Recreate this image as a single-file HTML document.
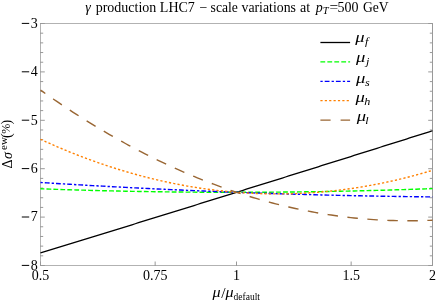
<!DOCTYPE html>
<html><head><meta charset="utf-8"><title>plot</title>
<style>html,body{margin:0;padding:0;background:#fff;}svg{display:block;will-change:transform;}text{font-family:"Liberation Serif",serif;fill:#000;}</style></head><body>
<svg width="436" height="302" viewBox="0 0 436 302">
<rect width="436" height="302" fill="#fff"/>
<defs><clipPath id="c"><rect x="40.0" y="23.5" width="393.0" height="242.0"/></clipPath></defs>
<g stroke-width="1" fill="none">
<path d="M40.50 23.00 V266.00 M40.50 23.50 H432.50 M40.50 265.50 H432.50" stroke="#b2b2b2"/>
<path d="M432.50 23.00 V266.00" stroke="#999999"/>
</g>
<g stroke="#999999" stroke-width="1" fill="none">
<path d="M40.00 23.50 h4.80 M433.00 23.50 h-4.80"/>
<path d="M40.00 33.18 h3.20 M433.00 33.18 h-3.20"/>
<path d="M40.00 42.86 h3.20 M433.00 42.86 h-3.20"/>
<path d="M40.00 52.54 h3.20 M433.00 52.54 h-3.20"/>
<path d="M40.00 62.22 h3.20 M433.00 62.22 h-3.20"/>
<path d="M40.00 71.90 h4.80 M433.00 71.90 h-4.80"/>
<path d="M40.00 81.58 h3.20 M433.00 81.58 h-3.20"/>
<path d="M40.00 91.26 h3.20 M433.00 91.26 h-3.20"/>
<path d="M40.00 100.94 h3.20 M433.00 100.94 h-3.20"/>
<path d="M40.00 110.62 h3.20 M433.00 110.62 h-3.20"/>
<path d="M40.00 120.30 h4.80 M433.00 120.30 h-4.80"/>
<path d="M40.00 129.98 h3.20 M433.00 129.98 h-3.20"/>
<path d="M40.00 139.66 h3.20 M433.00 139.66 h-3.20"/>
<path d="M40.00 149.34 h3.20 M433.00 149.34 h-3.20"/>
<path d="M40.00 159.02 h3.20 M433.00 159.02 h-3.20"/>
<path d="M40.00 168.70 h4.80 M433.00 168.70 h-4.80"/>
<path d="M40.00 178.38 h3.20 M433.00 178.38 h-3.20"/>
<path d="M40.00 188.06 h3.20 M433.00 188.06 h-3.20"/>
<path d="M40.00 197.74 h3.20 M433.00 197.74 h-3.20"/>
<path d="M40.00 207.42 h3.20 M433.00 207.42 h-3.20"/>
<path d="M40.00 217.10 h4.80 M433.00 217.10 h-4.80"/>
<path d="M40.00 226.78 h3.20 M433.00 226.78 h-3.20"/>
<path d="M40.00 236.46 h3.20 M433.00 236.46 h-3.20"/>
<path d="M40.00 246.14 h3.20 M433.00 246.14 h-3.20"/>
<path d="M40.00 255.82 h3.20 M433.00 255.82 h-3.20"/>
<path d="M40.00 265.50 h4.80 M433.00 265.50 h-4.80"/>
<path d="M40.50 266.00 v-4.5"/>
<path d="M155.15 266.00 v-4.5"/>
<path d="M236.50 266.00 v-4.5"/>
<path d="M351.15 266.00 v-4.5"/>
<path d="M432.50 266.00 v-4.5"/>
</g>
<g clip-path="url(#c)" fill="none">
<path d="M40.50 252.95 L43.77 251.95 L47.03 250.94 L50.30 249.94 L53.57 248.93 L56.83 247.93 L60.10 246.93 L63.37 245.92 L66.63 244.92 L69.90 243.91 L73.17 242.90 L76.43 241.90 L79.70 240.89 L82.97 239.89 L86.23 238.88 L89.50 237.87 L92.77 236.86 L96.03 235.86 L99.30 234.85 L102.57 233.84 L105.83 232.83 L109.10 231.82 L112.37 230.82 L115.63 229.81 L118.90 228.80 L122.17 227.79 L125.43 226.78 L128.70 225.77 L131.97 224.76 L135.23 223.75 L138.50 222.74 L141.77 221.73 L145.03 220.72 L148.30 219.70 L151.57 218.69 L154.83 217.68 L158.10 216.67 L161.37 215.66 L164.63 214.64 L167.90 213.63 L171.17 212.62 L174.43 211.60 L177.70 210.59 L180.97 209.58 L184.23 208.56 L187.50 207.55 L190.77 206.53 L194.03 205.52 L197.30 204.50 L200.57 203.49 L203.83 202.47 L207.10 201.45 L210.37 200.44 L213.63 199.42 L216.90 198.41 L220.17 197.39 L223.43 196.37 L226.70 195.35 L229.97 194.34 L233.23 193.32 L236.50 192.30 L239.77 191.28 L243.03 190.26 L246.30 189.24 L249.57 188.22 L252.83 187.21 L256.10 186.19 L259.37 185.17 L262.63 184.15 L265.90 183.12 L269.17 182.10 L272.43 181.08 L275.70 180.06 L278.97 179.04 L282.23 178.02 L285.50 177.00 L288.77 175.97 L292.03 174.95 L295.30 173.93 L298.57 172.91 L301.83 171.88 L305.10 170.86 L308.37 169.84 L311.63 168.81 L314.90 167.79 L318.17 166.76 L321.43 165.74 L324.70 164.71 L327.97 163.69 L331.23 162.66 L334.50 161.64 L337.77 160.61 L341.03 159.59 L344.30 158.56 L347.57 157.53 L350.83 156.51 L354.10 155.48 L357.37 154.45 L360.63 153.42 L363.90 152.39 L367.17 151.37 L370.43 150.34 L373.70 149.31 L376.97 148.28 L380.23 147.25 L383.50 146.22 L386.77 145.19 L390.03 144.16 L393.30 143.13 L396.57 142.10 L399.83 141.07 L403.10 140.04 L406.37 139.01 L409.63 137.98 L412.90 136.95 L416.17 135.91 L419.43 134.88 L422.70 133.85 L425.97 132.82 L429.23 131.78 L432.50 130.75" stroke="#000000" stroke-width="1.3"/>
<path d="M40.50 188.80 L43.77 188.92 L47.03 189.03 L50.30 189.15 L53.57 189.26 L56.83 189.37 L60.10 189.47 L63.37 189.58 L66.63 189.68 L69.90 189.78 L73.17 189.88 L76.43 189.98 L79.70 190.08 L82.97 190.17 L86.23 190.26 L89.50 190.35 L92.77 190.44 L96.03 190.52 L99.30 190.61 L102.57 190.69 L105.83 190.77 L109.10 190.84 L112.37 190.92 L115.63 190.99 L118.90 191.06 L122.17 191.13 L125.43 191.20 L128.70 191.27 L131.97 191.33 L135.23 191.39 L138.50 191.45 L141.77 191.51 L145.03 191.56 L148.30 191.62 L151.57 191.67 L154.83 191.72 L158.10 191.76 L161.37 191.81 L164.63 191.85 L167.90 191.89 L171.17 191.93 L174.43 191.97 L177.70 192.01 L180.97 192.04 L184.23 192.07 L187.50 192.10 L190.77 192.13 L194.03 192.15 L197.30 192.18 L200.57 192.20 L203.83 192.22 L207.10 192.23 L210.37 192.25 L213.63 192.26 L216.90 192.27 L220.17 192.28 L223.43 192.29 L226.70 192.30 L229.97 192.30 L233.23 192.30 L236.50 192.30 L239.77 192.30 L243.03 192.29 L246.30 192.29 L249.57 192.28 L252.83 192.27 L256.10 192.25 L259.37 192.24 L262.63 192.22 L265.90 192.20 L269.17 192.18 L272.43 192.16 L275.70 192.14 L278.97 192.11 L282.23 192.08 L285.50 192.05 L288.77 192.02 L292.03 191.98 L295.30 191.95 L298.57 191.91 L301.83 191.87 L305.10 191.82 L308.37 191.78 L311.63 191.73 L314.90 191.68 L318.17 191.63 L321.43 191.58 L324.70 191.53 L327.97 191.47 L331.23 191.41 L334.50 191.35 L337.77 191.29 L341.03 191.22 L344.30 191.16 L347.57 191.09 L350.83 191.02 L354.10 190.94 L357.37 190.87 L360.63 190.79 L363.90 190.71 L367.17 190.63 L370.43 190.55 L373.70 190.47 L376.97 190.38 L380.23 190.29 L383.50 190.20 L386.77 190.11 L390.03 190.01 L393.30 189.92 L396.57 189.82 L399.83 189.72 L403.10 189.61 L406.37 189.51 L409.63 189.40 L412.90 189.29 L416.17 189.18 L419.43 189.07 L422.70 188.96 L425.97 188.84 L429.23 188.72 L432.50 188.60" stroke="#00ff00" stroke-width="1.4" stroke-dasharray="4.8 2.16" stroke-dashoffset="1.0"/>
<path d="M40.50 182.50 L43.77 182.71 L47.03 182.91 L50.30 183.11 L53.57 183.32 L56.83 183.52 L60.10 183.71 L63.37 183.91 L66.63 184.11 L69.90 184.30 L73.17 184.49 L76.43 184.69 L79.70 184.88 L82.97 185.06 L86.23 185.25 L89.50 185.44 L92.77 185.62 L96.03 185.80 L99.30 185.99 L102.57 186.17 L105.83 186.34 L109.10 186.52 L112.37 186.70 L115.63 186.87 L118.90 187.04 L122.17 187.22 L125.43 187.39 L128.70 187.55 L131.97 187.72 L135.23 187.89 L138.50 188.05 L141.77 188.21 L145.03 188.37 L148.30 188.53 L151.57 188.69 L154.83 188.85 L158.10 189.00 L161.37 189.16 L164.63 189.31 L167.90 189.46 L171.17 189.61 L174.43 189.76 L177.70 189.91 L180.97 190.05 L184.23 190.20 L187.50 190.34 L190.77 190.48 L194.03 190.62 L197.30 190.76 L200.57 190.89 L203.83 191.03 L207.10 191.16 L210.37 191.29 L213.63 191.42 L216.90 191.55 L220.17 191.68 L223.43 191.81 L226.70 191.93 L229.97 192.06 L233.23 192.18 L236.50 192.30 L239.77 192.42 L243.03 192.54 L246.30 192.65 L249.57 192.77 L252.83 192.88 L256.10 192.99 L259.37 193.10 L262.63 193.21 L265.90 193.32 L269.17 193.43 L272.43 193.53 L275.70 193.64 L278.97 193.74 L282.23 193.84 L285.50 193.94 L288.77 194.04 L292.03 194.13 L295.30 194.23 L298.57 194.32 L301.83 194.41 L305.10 194.50 L308.37 194.59 L311.63 194.68 L314.90 194.76 L318.17 194.85 L321.43 194.93 L324.70 195.01 L327.97 195.09 L331.23 195.17 L334.50 195.25 L337.77 195.33 L341.03 195.40 L344.30 195.47 L347.57 195.55 L350.83 195.62 L354.10 195.68 L357.37 195.75 L360.63 195.82 L363.90 195.88 L367.17 195.94 L370.43 196.01 L373.70 196.07 L376.97 196.12 L380.23 196.18 L383.50 196.24 L386.77 196.29 L390.03 196.34 L393.30 196.40 L396.57 196.45 L399.83 196.49 L403.10 196.54 L406.37 196.59 L409.63 196.63 L412.90 196.67 L416.17 196.72 L419.43 196.76 L422.70 196.79 L425.97 196.83 L429.23 196.87 L432.50 196.90" stroke="#0000ff" stroke-width="1.4" stroke-dasharray="2.3 2.0 4.8 2.1" stroke-dashoffset="0"/>
<path d="M40.50 139.30 L43.77 140.80 L47.03 142.28 L50.30 143.73 L53.57 145.17 L56.83 146.58 L60.10 147.98 L63.37 149.35 L66.63 150.70 L69.90 152.03 L73.17 153.34 L76.43 154.63 L79.70 155.90 L82.97 157.15 L86.23 158.38 L89.50 159.58 L92.77 160.77 L96.03 161.93 L99.30 163.08 L102.57 164.20 L105.83 165.30 L109.10 166.38 L112.37 167.44 L115.63 168.48 L118.90 169.50 L122.17 170.50 L125.43 171.48 L128.70 172.43 L131.97 173.37 L135.23 174.28 L138.50 175.18 L141.77 176.05 L145.03 176.90 L148.30 177.73 L151.57 178.54 L154.83 179.33 L158.10 180.10 L161.37 180.85 L164.63 181.58 L167.90 182.28 L171.17 182.97 L174.43 183.63 L177.70 184.28 L180.97 184.90 L184.23 185.50 L187.50 186.08 L190.77 186.64 L194.03 187.18 L197.30 187.70 L200.57 188.20 L203.83 188.68 L207.10 189.13 L210.37 189.57 L213.63 189.98 L216.90 190.38 L220.17 190.75 L223.43 191.10 L226.70 191.43 L229.97 191.74 L233.23 192.03 L236.50 192.30 L239.77 192.55 L243.03 192.78 L246.30 192.98 L249.57 193.17 L252.83 193.33 L256.10 193.48 L259.37 193.60 L262.63 193.70 L265.90 193.78 L269.17 193.84 L272.43 193.88 L275.70 193.90 L278.97 193.90 L282.23 193.88 L285.50 193.83 L288.77 193.77 L292.03 193.68 L295.30 193.58 L298.57 193.45 L301.83 193.30 L305.10 193.13 L308.37 192.94 L311.63 192.73 L314.90 192.50 L318.17 192.25 L321.43 191.98 L324.70 191.68 L327.97 191.37 L331.23 191.03 L334.50 190.68 L337.77 190.30 L341.03 189.90 L344.30 189.48 L347.57 189.04 L350.83 188.58 L354.10 188.10 L357.37 187.60 L360.63 187.08 L363.90 186.53 L367.17 185.97 L370.43 185.38 L373.70 184.78 L376.97 184.15 L380.23 183.50 L383.50 182.83 L386.77 182.14 L390.03 181.43 L393.30 180.70 L396.57 179.95 L399.83 179.18 L403.10 178.38 L406.37 177.57 L409.63 176.73 L412.90 175.88 L416.17 175.00 L419.43 174.10 L422.70 173.18 L425.97 172.24 L429.23 171.28 L432.50 170.30" stroke="#ff8000" stroke-width="1.4" stroke-dasharray="2.2 2.18" stroke-dashoffset="0"/>
<path d="M40.50 90.10 L43.77 92.41 L47.03 94.70 L50.30 96.97 L53.57 99.22 L56.83 101.45 L60.10 103.66 L63.37 105.85 L66.63 108.02 L69.90 110.17 L73.17 112.29 L76.43 114.40 L79.70 116.48 L82.97 118.55 L86.23 120.59 L89.50 122.62 L92.77 124.62 L96.03 126.60 L99.30 128.56 L102.57 130.50 L105.83 132.42 L109.10 134.32 L112.37 136.20 L115.63 138.06 L118.90 139.90 L122.17 141.71 L125.43 143.51 L128.70 145.28 L131.97 147.04 L135.23 148.77 L138.50 150.49 L141.77 152.18 L145.03 153.85 L148.30 155.50 L151.57 157.14 L154.83 158.75 L158.10 160.34 L161.37 161.91 L164.63 163.45 L167.90 164.98 L171.17 166.49 L174.43 167.98 L177.70 169.44 L180.97 170.89 L184.23 172.31 L187.50 173.72 L190.77 175.10 L194.03 176.46 L197.30 177.80 L200.57 179.13 L203.83 180.43 L207.10 181.71 L210.37 182.97 L213.63 184.21 L216.90 185.42 L220.17 186.62 L223.43 187.80 L226.70 188.95 L229.97 190.09 L233.23 191.21 L236.50 192.30 L239.77 193.37 L243.03 194.43 L246.30 195.46 L249.57 196.47 L252.83 197.46 L256.10 198.43 L259.37 199.38 L262.63 200.31 L265.90 201.22 L269.17 202.11 L272.43 202.98 L275.70 203.82 L278.97 204.65 L282.23 205.46 L285.50 206.24 L288.77 207.00 L292.03 207.75 L295.30 208.47 L298.57 209.17 L301.83 209.86 L305.10 210.52 L308.37 211.16 L311.63 211.78 L314.90 212.38 L318.17 212.95 L321.43 213.51 L324.70 214.05 L327.97 214.57 L331.23 215.06 L334.50 215.54 L337.77 215.99 L341.03 216.43 L344.30 216.84 L347.57 217.23 L350.83 217.60 L354.10 217.96 L357.37 218.29 L360.63 218.60 L363.90 218.89 L367.17 219.16 L370.43 219.40 L373.70 219.63 L376.97 219.84 L380.23 220.02 L383.50 220.19 L386.77 220.34 L390.03 220.46 L393.30 220.56 L396.57 220.65 L399.83 220.71 L403.10 220.75 L406.37 220.77 L409.63 220.77 L412.90 220.75 L416.17 220.71 L419.43 220.65 L422.70 220.57 L425.97 220.47 L429.23 220.34 L432.50 220.20" stroke="#996633" stroke-width="1.4" stroke-dasharray="10.5 9.52" stroke-dashoffset="4.6"/>
</g>
<text x="37.8" y="27.70" font-size="14" text-anchor="end">3</text>
<path d="M21.8 23.40 H29.2" stroke="#000" stroke-width="1" fill="none"/>
<text x="37.8" y="76.10" font-size="14" text-anchor="end">4</text>
<path d="M21.8 71.80 H29.2" stroke="#000" stroke-width="1" fill="none"/>
<text x="37.8" y="124.50" font-size="14" text-anchor="end">5</text>
<path d="M21.8 120.20 H29.2" stroke="#000" stroke-width="1" fill="none"/>
<text x="37.8" y="172.90" font-size="14" text-anchor="end">6</text>
<path d="M21.8 168.60 H29.2" stroke="#000" stroke-width="1" fill="none"/>
<text x="37.8" y="221.30" font-size="14" text-anchor="end">7</text>
<path d="M21.8 217.00 H29.2" stroke="#000" stroke-width="1" fill="none"/>
<text x="37.8" y="269.70" font-size="14" text-anchor="end">8</text>
<path d="M21.8 265.40 H29.2" stroke="#000" stroke-width="1" fill="none"/>
<text x="40.50" y="279.9" font-size="14" text-anchor="middle">0.5</text>
<text x="155.15" y="279.9" font-size="14" text-anchor="middle">0.75</text>
<text x="236.50" y="279.9" font-size="14" text-anchor="middle">1</text>
<text x="351.15" y="279.9" font-size="14" text-anchor="middle">1.5</text>
<text x="432.50" y="279.9" font-size="14" text-anchor="middle">2</text>
<text y="11.8" font-size="14"><tspan x="85.3" font-style="italic">γ</tspan><tspan x="95.7">production LHC7</tspan><tspan x="199.5">−</tspan><tspan x="210.6" font-size="13.7">scale</tspan><tspan x="241.5" font-size="13.8">variations</tspan><tspan x="300.1">at</tspan><tspan x="315.8" font-style="italic">p</tspan><tspan font-style="italic" font-size="10.5" dy="2.5">T</tspan></text>
<text transform="translate(329.4 11.8) scale(1.1 1)" font-size="14">=</text>
<text x="337.6" y="11.8" font-size="14">500</text>
<text x="363" y="11.8" font-size="13.6">GeV</text>
<text transform="translate(212.6 296.70) scale(1.15 1)" font-size="14" font-style="italic">μ</text>
<text x="221.2" y="297.90" font-size="15.5">/</text>
<text transform="translate(225.4 296.70) scale(1.15 1)" font-size="14" font-style="italic">μ</text>
<text x="233.6" y="299.80" font-size="9.5">default</text>
<text transform="translate(12.2 168.5) rotate(-90)" font-size="14"><tspan x="0">Δ</tspan><tspan x="9.4" font-style="italic">σ</tspan><tspan x="18.6" dy="-5.7" font-size="11">ew</tspan><tspan x="30.6" dy="4.9">(</tspan><tspan x="34.8" dy="-1.2" font-size="12">%</tspan><tspan x="44" dy="1.2">)</tspan></text>
<path d="M320.4 42.50 H350.1" stroke="#000000" stroke-width="1.3" fill="none"/>
<text transform="translate(355.20 42.30) scale(1.2 1)" font-size="15.5" font-style="italic">μ</text>
<text transform="translate(365.00 45.10) scale(1.1 1)" font-size="11" font-style="italic">f</text>
<path d="M320.4 61.90 H350.1" stroke="#00ff00" stroke-width="1.3" fill="none" stroke-dasharray="4.8 2.16"/>
<text transform="translate(356.10 61.90) scale(1.2 1)" font-size="15.5" font-style="italic">μ</text>
<text transform="translate(365.90 64.70) scale(1.1 1)" font-size="11" font-style="italic">j</text>
<path d="M320.4 81.30 H350.1" stroke="#0000ff" stroke-width="1.3" fill="none" stroke-dasharray="2.3 2.0 4.8 2.1"/>
<text transform="translate(356.10 82.70) scale(1.2 1)" font-size="15.5" font-style="italic">μ</text>
<text transform="translate(365.00 85.50) scale(1.1 1)" font-size="11" font-style="italic">s</text>
<path d="M320.4 100.70 H350.1" stroke="#ff8000" stroke-width="1.3" fill="none" stroke-dasharray="2.2 2.18"/>
<text transform="translate(355.40 102.30) scale(1.2 1)" font-size="15.5" font-style="italic">μ</text>
<text transform="translate(364.30 105.10) scale(1.1 1)" font-size="11" font-style="italic">h</text>
<path d="M320.4 120.10 H350.1" stroke="#996633" stroke-width="1.3" fill="none" stroke-dasharray="10.2 10"/>
<text transform="translate(356.80 121.40) scale(1.2 1)" font-size="15.5" font-style="italic">μ</text>
<text transform="translate(365.30 124.20) scale(1.1 1)" font-size="11" font-style="italic">l</text>
</svg></body></html>
